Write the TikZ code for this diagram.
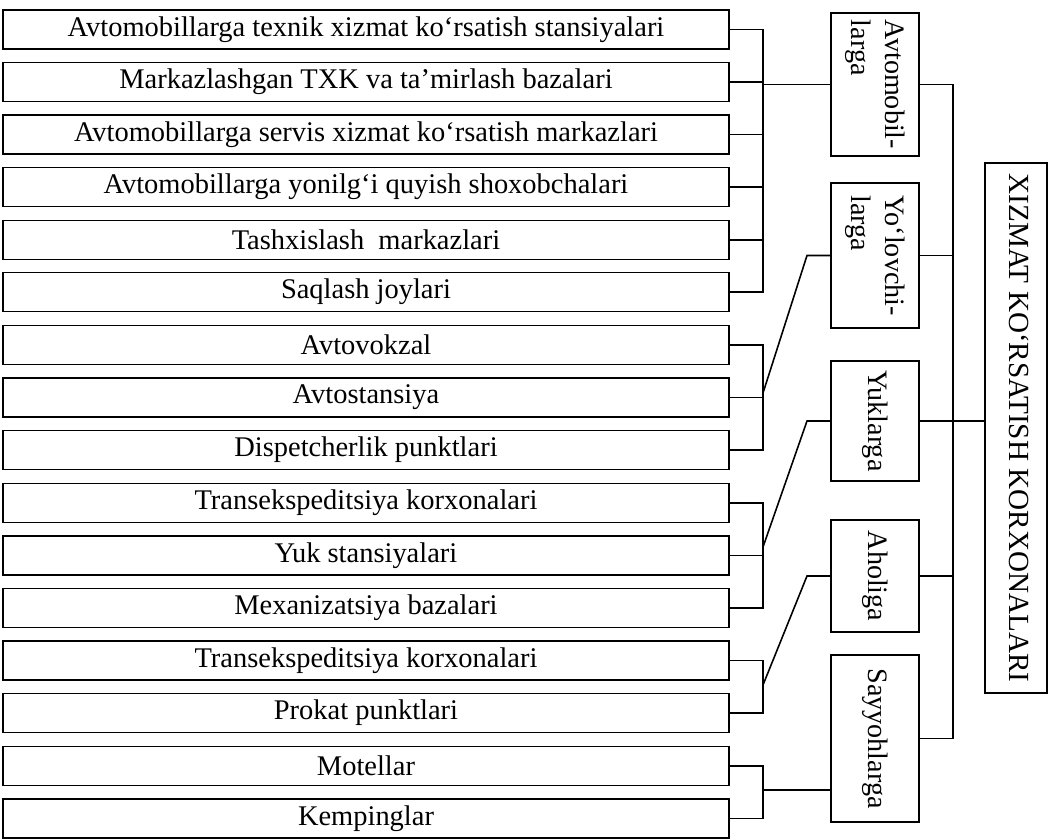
\documentclass[tikz,border=0pt]{standalone}
\usepackage{fontspec}
\setmainfont{Liberation Serif}
\usepackage{graphicx}
\tikzset{item/.style={draw,minimum width=14.52cm,minimum height=0.78cm,inner sep=0pt,font=\fontsize{16.2}{18}\selectfont}}
\tikzset{cat/.style={draw,minimum width=1.76cm,inner sep=0pt,font=\fontsize{16}{19}\selectfont}}
\newcommand{\turn}[1]{\rotatebox{-90}{\begin{tabular}{@{}l@{}}#1\end{tabular}}}

\begin{document}
\begin{tikzpicture}[x=0.2mm,y=-0.2mm,line width=0.9pt]
		\useasboundingbox (0,0) rectangle (1053,839);
		%
		\node[item] (i1) at (366,29.5) {Avtomobillarga texnik xizmat ko‘rsatish stansiyalari};
		\node[item] (i2) at (366,82) {Markazlashgan TXK va ta’mirlash bazalari};
		\node[item] (i3) at (366,134.5) {Avtomobillarga servis xizmat ko‘rsatish markazlari};
		\node[item] (i4) at (366,187) {Avtomobillarga yonilg‘i quyish shoxobchalari};
		\node[item] (i5) at (366,240) {Tashxislash\ \ markazlari};
		\node[item] (i6) at (366,292) {Saqlash joylari};
		\node[item] (i7) at (366,345) {Avtovokzal};
		\node[item] (i8) at (366,397.5) {Avtostansiya};
		\node[item] (i9) at (366,450) {Dispetcherlik punktlari};
		\node[item] (i10) at (366,503) {Transekspeditsiya korxonalari};
		\node[item] (i11) at (366,555.5) {Yuk stansiyalari};
		\node[item] (i12) at (366,608) {Mexanizatsiya bazalari};
		\node[item] (i13) at (366,660.5) {Transekspeditsiya korxonalari};
		\node[item] (i14) at (366,713) {Prokat punktlari};
		\node[item] (i15) at (366,766) {Motellar};
		\node[item] (i16) at (366,818.5) {Kempinglar};
		%
		\node[cat,minimum height=2.86cm] (avto) at (875,84.5) {\turn{Avtomobil-\\larga}};
		\node[cat,minimum height=2.9cm] (yolov) at (875,255.5) {\turn{Yo‘lovchi-\\larga}};
		\node[cat,minimum height=2.4cm] (yuk) at (875,421) {\turn{Yuklarga}};
		\node[cat,minimum height=2.24cm] (ahol) at (875,576) {\turn{Aholiga}};
		\node[cat,minimum height=3.34cm] (sayyoh) at (875,738.5) {\turn{Sayyohlarga}};
		\node[cat,minimum width=1.24cm,minimum height=10.6cm,font=\fontsize{16.6}{19}\selectfont] (main) at (1016,428) {\turn{XIZMAT KO‘RSATISH KORXONALARI}};
		%
		\coordinate (lb) at (763,0);
		\coordinate (kb) at (807,0);
		\coordinate (rb) at (953,0);
		%
		\draw (i1.east) -- (i1.east -| lb) -- (i6.east -| lb) -- (i6.east);
		\draw (i2.east) -- (i2.east -| lb);
		\draw (i3.east) -- (i3.east -| lb);
		\draw (i4.east) -- (i4.east -| lb);
		\draw (i5.east) -- (i5.east -| lb);
		\draw (avto.west -| lb) -- (avto.west);
		%
		\draw (i7.east) -- (i7.east -| lb) -- (i9.east -| lb) -- (i9.east);
		\draw (i8.east) -- (i8.east -| lb);
		\draw (763,393) -- (yolov.west -| kb) -- (yolov.west);
		%
		\draw (i10.east) -- (i10.east -| lb) -- (i12.east -| lb) -- (i12.east);
		\draw (i11.east) -- (i11.east -| lb);
		\draw (763,547) -- (yuk.west -| kb) -- (yuk.west);
		%
		\draw (i13.east) -- (i13.east -| lb) -- (i14.east -| lb) -- (i14.east);
		\draw (763,685) -- (ahol.west -| kb) -- (ahol.west);
		%
		\draw (i15.east) -- (i15.east -| lb) -- (i16.east -| lb) -- (i16.east);
		\draw (763,790) -- (sayyoh.west |- 0,790);
		%
		\draw (avto.east) -- (avto.east -| rb) -- (sayyoh.east -| rb) -- (sayyoh.east);
		\draw (yolov.east) -- (yolov.east -| rb);
		\draw (ahol.east) -- (ahol.east -| rb);
		\draw (yuk.east) -- (yuk.east -| main.west);
	\end{tikzpicture}
\end{document}
